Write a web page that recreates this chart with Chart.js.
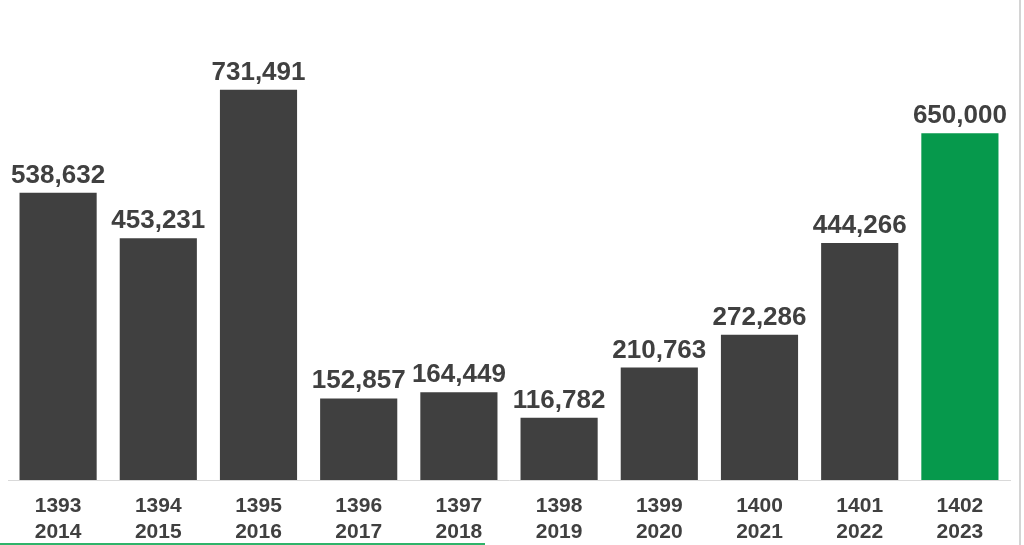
<!DOCTYPE html>
<html>
<head>
<meta charset="utf-8">
<script src="https://cdn.jsdelivr.net/npm/chart.js@4/dist/chart.umd.min.js"></script>
<style>
  html, body { margin: 0; padding: 0; background: #fff; }
  #wrap { width: 1024px; height: 545px; position: relative; }
</style>
</head>
<body>
<div id="wrap"><canvas id="barChart" width="1024" height="545"></canvas></div>
<script>
// values
const persianYears = ['1393', '1394', '1395', '1396', '1397', '1398', '1399', '1400', '1401', '1402'];
const gregorianYears = ['2014', '2015', '2016', '2017', '2018', '2019', '2020', '2021', '2022', '2023'];
const amounts = [538632, 453231, 731491, 152857, 164449, 116782, 210763, 272286, 444266, 650000];

const DARK = '#404040';
const GREEN = '#06994c';

const labels = persianYears.map((p, i) => [p, gregorianYears[i]]);
const barColors = amounts.map((v, i) => i === amounts.length - 1 ? GREEN : DARK);

// numbers above the bars
const valueLabels = {
  id: 'valueLabels',
  afterDatasetsDraw(chart) {
    const ctx = chart.ctx;
    const meta = chart.getDatasetMeta(0);
    ctx.save();
    ctx.font = 'bold 26px "Liberation Sans", Arial, sans-serif';
    ctx.fillStyle = DARK;
    ctx.textAlign = 'center';
    ctx.textBaseline = 'alphabetic';
    meta.data.forEach((bar, i) => {
      ctx.fillText(amounts[i].toLocaleString('en-US'), bar.x, bar.y - 10);
    });
    ctx.restore();
  }
};

// frame bits of the slide: right edge and green rule at bottom
const frame = {
  id: 'frame',
  afterDraw(chart) {
    const ctx = chart.ctx;
    ctx.save();
    ctx.strokeStyle = '#d4d4d4';
    ctx.lineWidth = 2;
    ctx.beginPath();
    ctx.moveTo(1020, 0);
    ctx.lineTo(1020, 545);
    ctx.stroke();
    ctx.strokeStyle = '#2fb36a';
    ctx.lineWidth = 2;
    ctx.beginPath();
    ctx.moveTo(0, 544);
    ctx.lineTo(485, 544);
    ctx.stroke();
    ctx.restore();
  }
};

new Chart(document.getElementById('barChart').getContext('2d'), {
  type: 'bar',
  data: {
    labels,
    datasets: [{
      data: amounts,
      backgroundColor: barColors,
      borderWidth: 0,
      barPercentage: 0.77,
      categoryPercentage: 1
    }]
  },
  options: {
    responsive: false,
    animation: false,
    layout: { padding: { left: 8, right: 14, top: 0, bottom: 0 } },
    plugins: {
      legend: { display: false },
      tooltip: { enabled: false }
    },
    scales: {
      x: {
        grid: { display: false },
        border: { display: true, color: '#d9d9d9', width: 1 },
        ticks: {
          color: DARK,
          font: { family: '"Liberation Sans", Arial, sans-serif', size: 21, weight: 'bold', lineHeight: 1.2 },
          padding: 6,
          maxRotation: 0
        },
        afterFit(axis) { axis.height = 65; }
      },
      y: {
        display: false,
        min: 0,
        max: 900000
      }
    }
  },
  plugins: [valueLabels, frame]
});
</script>
</body>
</html>
